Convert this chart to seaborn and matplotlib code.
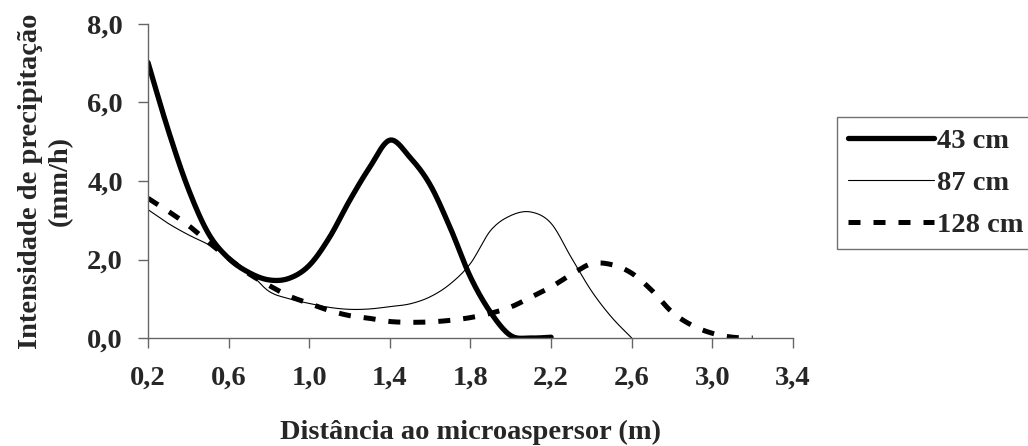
import numpy as np
import pandas as pd
import matplotlib
matplotlib.use("Agg")
import matplotlib.pyplot as plt
import seaborn as sns

# ---- data ----
x_43 = [0.2, 0.3, 0.4, 0.5, 0.6, 0.7, 0.8, 0.9, 1.0, 1.1, 1.2, 1.3, 1.4, 1.5, 1.6, 1.7, 1.8, 1.9, 2.0, 2.1, 2.2]
y_43 = [7.02, 5.3, 3.8, 2.66, 2.03, 1.67, 1.48, 1.52, 1.85, 2.56, 3.5, 4.35, 5.04, 4.6, 3.9, 2.8, 1.55, 0.65, 0.06, 0.0, 0.02]

x_87 = [0.2, 0.3, 0.4, 0.5, 0.6, 0.7, 0.8, 0.9, 1.0, 1.1, 1.2, 1.3, 1.4, 1.5, 1.6, 1.7, 1.8, 1.9, 2.0, 2.1, 2.2, 2.3, 2.4, 2.5, 2.6]
y_87 = [3.27, 2.92, 2.63, 2.38, 2.06, 1.68, 1.19, 1.0, 0.88, 0.78, 0.73, 0.74, 0.8, 0.87, 1.05, 1.38, 1.9, 2.74, 3.12, 3.21, 2.92, 2.05, 1.2, 0.53, 0.0]

x_128 = [0.2, 0.3, 0.4, 0.5, 0.6, 0.7, 0.8, 0.9, 1.0, 1.1, 1.2, 1.3, 1.4, 1.5, 1.6, 1.7, 1.8, 1.9, 2.0, 2.1, 2.2, 2.3, 2.4, 2.5, 2.6, 2.7, 2.8, 2.9, 3.0, 3.1, 3.2]
y_128 = [3.56, 3.23, 2.87, 2.44, 2.03, 1.64, 1.34, 1.07, 0.88, 0.7, 0.57, 0.5, 0.42, 0.4, 0.41, 0.45, 0.52, 0.63, 0.79, 1.04, 1.3, 1.62, 1.89, 1.87, 1.65, 1.21, 0.66, 0.32, 0.12, 0.02, 0.0]

series_names = ["43 cm", "87 cm", "128 cm"]
x_ticks = [0.2, 0.6, 1.0, 1.4, 1.8, 2.2, 2.6, 3.0, 3.4]
y_ticks = [0.0, 2.0, 4.0, 6.0, 8.0]
x_label = "Distância ao microaspersor (m)"
y_label = "Intensidade de precipitação\n(mm/h)"

FS = 20.5


def smooth(xs, ys, n=20):
    """Excel-style smoothed line (Catmull-Rom Bezier through the points)."""
    xs = np.asarray(xs, float)
    ys = np.asarray(ys, float)
    P = np.column_stack([xs, ys])
    out = []
    for i in range(len(P) - 1):
        p0 = P[i - 1] if i > 0 else P[i]
        p1 = P[i]
        p2 = P[i + 1]
        p3 = P[i + 2] if i + 2 < len(P) else P[i + 1]
        c1 = p1 + (p2 - p0) / 6.0
        c2 = p2 - (p3 - p1) / 6.0
        t = np.linspace(0, 1, n, endpoint=(i == len(P) - 2))[:, None]
        seg = ((1 - t) ** 3) * p1 + 3 * ((1 - t) ** 2) * t * c1 + 3 * (1 - t) * t ** 2 * c2 + t ** 3 * p2
        out.append(seg)
    out = np.vstack(out)
    return out[:, 0], out[:, 1]


frames = []
for name, xs, ys in zip(series_names, [x_43, x_87, x_128], [y_43, y_87, y_128]):
    sx, sy = smooth(xs, ys)
    frames.append(pd.DataFrame({"x": sx, "y": sy, "serie": name, "order": np.arange(len(sx))}))
df = pd.concat(frames, ignore_index=True)

sns.set_theme(style="white")
plt.rcParams["font.family"] = ["Liberation Serif", "DejaVu Serif"]
plt.rcParams["font.weight"] = "bold"

fig = plt.figure(figsize=(10.28, 4.46), dpi=100)
ax = fig.add_axes([148 / 1028, 1 - 338 / 446, (793 - 148) / 1028, (338 - 24) / 446])

styles = {
    "43 cm": dict(lw=3.8, ls="-"),
    "87 cm": dict(lw=0.8, ls="-"),
    "128 cm": dict(lw=3.6, ls=(0, (2.4, 2.6))),
}
for name in series_names:
    sub = df[df["serie"] == name]
    sns.lineplot(data=sub, x="x", y="y", sort=False, estimator=None, ax=ax,
                 color="black", linewidth=styles[name]["lw"],
                 linestyle=styles[name]["ls"], label=name)

ax.set_xlim(0.2, 3.4)
ax.set_ylim(0, 8)
ax.set_xticks(x_ticks)
ax.set_yticks(y_ticks)
ax.set_xticklabels([f"{v:.1f}".replace(".", ",") for v in x_ticks], fontsize=FS, fontweight="bold")
ax.set_yticklabels([f"{v:.1f}".replace(".", ",") for v in y_ticks], fontsize=FS, fontweight="bold")
ax.tick_params(axis="both", direction="out", length=7, width=1, color="0.4",
               bottom=True, left=True)
ax.tick_params(axis="x", pad=13)
ax.tick_params(axis="y", pad=11)
for s in ["top", "right"]:
    ax.spines[s].set_visible(False)
for s in ["left", "bottom"]:
    ax.spines[s].set_color("0.4")
    ax.spines[s].set_linewidth(1)

ax.set_xlabel(x_label, fontsize=FS, fontweight="bold", labelpad=21)
ax.set_ylabel(y_label, fontsize=FS, fontweight="bold", labelpad=10, linespacing=1.3)

leg = ax.legend(loc="upper left", bbox_to_anchor=(837 / 1028, 1 - 117 / 446),
                bbox_transform=fig.transFigure, frameon=True, fancybox=False,
                prop={"family": "Liberation Serif", "weight": "bold", "size": FS},
                handlelength=3.0, handletextpad=0.1, borderpad=0.4,
                labelspacing=0.55, borderaxespad=0)
leg.get_frame().set_edgecolor("0.3")
leg.get_frame().set_linewidth(1)

fig.savefig("out.png", dpi=100)
